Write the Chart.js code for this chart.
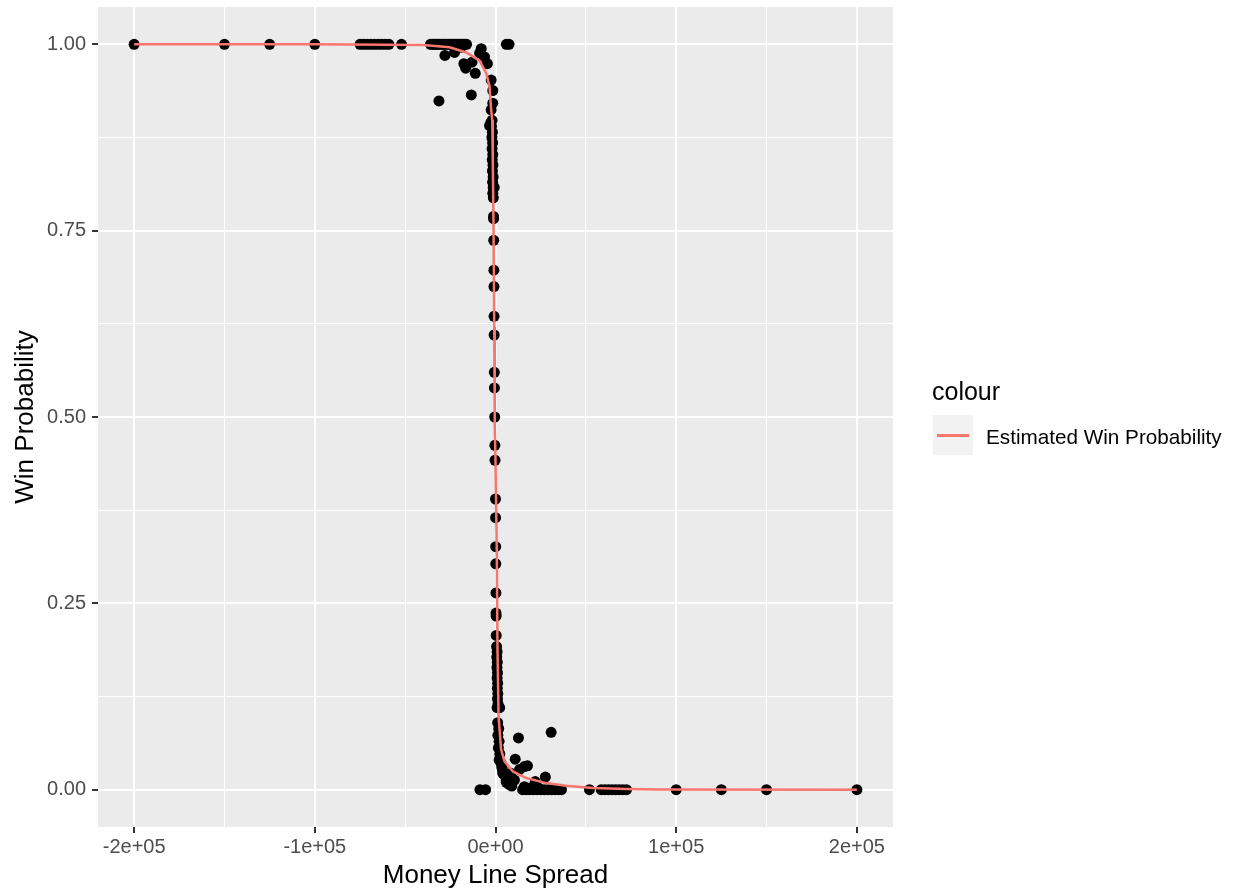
<!DOCTYPE html>
<html>
<head>
<meta charset="utf-8">
<script src="https://cdn.jsdelivr.net/npm/chart.js@4/dist/chart.umd.min.js"></script>
<style>
  body { margin: 0; background: #fff; }
  #wrap { position: relative; width: 1239px; height: 896px; font-family: 'Liberation Sans', Arial, sans-serif; }
  #chart { position: absolute; left: 0; top: 0; }
  .legend-title { position: absolute; left: 932px; top: 379px; font-size: 25px; line-height: 25px; color: #000; white-space: nowrap; }
  .legend-key { position: absolute; left: 933px; top: 415px; width: 40px; height: 40px; background: #F2F2F2; }
  .legend-key span { position: absolute; left: 4px; top: 18.5px; width: 32px; height: 3px; background: #F8766D; }
  .legend-label { position: absolute; left: 986px; top: 426px; font-size: 20.7px; line-height: 21px; color: #000; white-space: nowrap; }
</style>
</head>
<body>
<div id="wrap">
  <canvas id="chart" width="1239" height="896"></canvas>
  <div class="legend-title">colour</div>
  <div class="legend-key"><span></span></div>
  <div class="legend-label">Estimated Win Probability</div>
</div>
<script>
// Axis ticks
const xMajorTicks = [-200000, -100000, 0, 100000, 200000];
const xMinorTicks = [-150000, -50000, 50000, 150000];
const xTickLabels = ['-2e+05', '-1e+05', '0e+00', '1e+05', '2e+05'];
const yMajorTicks = [0, 0.25, 0.5, 0.75, 1];
const yMinorTicks = [0.125, 0.375, 0.625, 0.875];
const yTickLabels = ['0.00', '0.25', '0.50', '0.75', '1.00'];

// Observed games: money line spread vs win probability
const spreadValues = [
    -200000, -150000, -125000, -100000,
    -75000, -73000, -71000, -69000, -67000, -65000, -63000, -61000, -59000, -52000,
    -36000, -35000, -34000, -33000, -32000, -31000, -30000, -29000, -28000, -27000,
    -26000, -25000, -24000, -23000, -22000, -21000, -20000, -19000, -18000, -17000, -16000,
    6000, 7500,
    -31300, -28000, -22700, -19000, -17500, -16500, -13400, -13000, -11200, -8800,
    -7900, -6100, -4500, -2400, -1500, -1500, -2400, -3300, -2600,
    -1900, -2200, -1700, -2000, -1600, -1900, -1500, -1800, -1400, -1700, -1300, -1600, -1300, -700, -1500,
    -1200, -1100, -1050, -1000, -900, -850, -800, -750, -650, -600, -450, -350, -250,
    0, 50, 100, 150, 250, 300, 350, 400,
    600, 900, 700, 1000, 800, 1100, 900, 1200, 1000, 1300, 1100, 1400, 900, 2300,
    1200, 1800, 1300, 2000, 1600, 2400, 2000, 3000,
    30800, 12700, 10900, 16000, 13300, 17700, 27600, 22000, 7700, 5000, 5900, 3800,
    10500, 8500, 3500, 4000, 6000, 9000,
    -8600, -5500,
    15000, 17000, 19000, 21000, 23000, 25000, 27000, 29000, 31000, 33000, 35000, 36500,
    16000, 20000, 24000,
    52000, 58500, 60500, 62500, 64500, 66500, 68500, 70500, 72500,
    100000, 125000, 150000, 200000,
];
const winProbValues = [
    1, 1, 1, 1,
    1, 1, 1, 1, 1, 1, 1, 1, 1, 1,
    1, 1, 1, 1, 1, 1, 1, 1, 1, 1,
    1, 1, 1, 1, 1, 1, 1, 1, 1, 1, 1,
    1, 1,
    0.924, 0.985, 0.989, 0.996, 0.974, 0.968, 0.932, 0.976, 0.961, 0.988,
    0.994, 0.983, 0.974, 0.952, 0.938, 0.921, 0.912, 0.891, 0.895,
    0.898, 0.890, 0.882, 0.875, 0.868, 0.860, 0.852, 0.845, 0.838, 0.830, 0.822, 0.815, 0.808, 0.808, 0.800,
    0.794, 0.769, 0.766, 0.737, 0.697, 0.675, 0.635, 0.610, 0.560, 0.539, 0.500, 0.462, 0.442,
    0.390, 0.365, 0.326, 0.303, 0.264, 0.237, 0.233, 0.207,
    0.192, 0.185, 0.178, 0.171, 0.164, 0.157, 0.150, 0.143, 0.136, 0.129, 0.122, 0.115, 0.110, 0.110,
    0.090, 0.082, 0.073, 0.065, 0.056, 0.048, 0.040, 0.036,
    0.077, 0.0695, 0.041, 0.031, 0.027, 0.032, 0.017, 0.011, 0.0067, 0.020, 0.013, 0.027,
    0.013, 0.022, 0.030, 0.022, 0.010, 0.005,
    0, 0,
    0, 0, 0, 0, 0, 0, 0, 0, 0, 0, 0, 0,
    0.004, 0.003, 0.002,
    0, 0, 0, 0, 0, 0, 0, 0, 0,
    0, 0, 0, 0,
];

// Fitted curve
const curveSpread = [
    -200000, -100000, -60000, -40000, -25400, -16200, -8800, -5100, -3300, -2400,
    -1800, -1500, -1100, -700, -400, -100, 700, 1100, 1700, 3100,
    5000, 9600, 17000, 28000, 39000, 54000, 72000, 90000, 200000,
];
const curveProb = [
    1.000, 1.000, 0.9995, 0.999, 0.996, 0.989, 0.978, 0.961, 0.943, 0.912,
    0.898, 0.845, 0.755, 0.621, 0.487, 0.456, 0.322, 0.188, 0.098, 0.054,
    0.038, 0.0245, 0.0157, 0.0089, 0.0054, 0.0023, 0.001, 0.0003, 0.000,
];

Chart.defaults.font.family = "'Liberation Sans', Arial, sans-serif";

const isMajor = (majors, ctx) => ctx.tick && majors.includes(ctx.tick.value);

// no extra room for half-height / half-width tick labels
const noLabelPadding = (scale) => {
    scale.paddingTop = 0;
    scale.paddingBottom = 0;
    scale.paddingLeft = 0;
    scale.paddingRight = 0;
};

const panelBackground = {
    id: 'panelBackground',
    beforeDraw(chart) {
        const { ctx, chartArea: a } = chart;
        ctx.save();
        ctx.fillStyle = '#EBEBEB';
        ctx.fillRect(a.left, a.top, a.width, a.height);
        ctx.restore();
    },
};

new Chart(document.getElementById('chart'), {
    type: 'scatter',
    data: {
        datasets: [
            {
                label: 'Estimated Win Probability',
                data: curveSpread.map((x, i) => ({ x, y: curveProb[i] })),
                showLine: true,
                borderColor: '#F8766D',
                borderWidth: 2.5,
                pointRadius: 0,
                tension: 0,
                order: 0,
            },
            {
                label: 'observed',
                data: spreadValues.map((x, i) => ({ x, y: winProbValues[i] })),
                backgroundColor: '#000',
                borderWidth: 0,
                pointRadius: 5.5,
                order: 1,
            },
        ],
    },
    options: {
        responsive: false,
        animation: false,
        devicePixelRatio: 1,
        layout: { padding: { top: 7, right: 346, bottom: 0, left: 0 } },
        plugins: {
            legend: { display: false },
            tooltip: { enabled: false },
        },
        scales: {
            x: {
                type: 'linear',
                min: -220000,
                max: 220000,
                afterBuildTicks: (scale) => {
                    scale.ticks = xMajorTicks.concat(xMinorTicks).sort((a, b) => a - b).map(v => ({ value: v }));
                },
                afterFit: (scale) => { scale.height = 69; noLabelPadding(scale); },
                ticks: {
                    autoSkip: false,
                    maxRotation: 0,
                    padding: 2,
                    color: '#4D4D4D',
                    font: { size: 20 },
                    callback: (value) => {
                        const i = xMajorTicks.indexOf(value);
                        return i >= 0 ? xTickLabels[i] : '';
                    },
                },
                grid: {
                    color: '#FFFFFF',
                    lineWidth: ctx => isMajor(xMajorTicks, ctx) ? 2 : 1,
                    tickColor: ctx => isMajor(xMajorTicks, ctx) ? '#333333' : 'rgba(0,0,0,0)',
                    tickLength: 6,
                    tickWidth: 2,
                },
                border: { display: false },
                title: {
                    display: true,
                    text: 'Money Line Spread',
                    color: '#000',
                    font: { size: 26 },
                    padding: { top: 0, bottom: 5 },
                },
            },
            y: {
                type: 'linear',
                min: -0.05,
                max: 1.05,
                afterBuildTicks: (scale) => {
                    scale.ticks = yMajorTicks.concat(yMinorTicks).sort((a, b) => a - b).map(v => ({ value: v }));
                },
                afterFit: (scale) => { scale.width = 98; noLabelPadding(scale); },
                ticks: {
                    autoSkip: false,
                    padding: 6,
                    color: '#4D4D4D',
                    font: { size: 20 },
                    callback: (value) => {
                        const i = yMajorTicks.indexOf(value);
                        return i >= 0 ? yTickLabels[i] : '';
                    },
                },
                grid: {
                    color: '#FFFFFF',
                    lineWidth: ctx => isMajor(yMajorTicks, ctx) ? 2 : 1,
                    tickColor: ctx => isMajor(yMajorTicks, ctx) ? '#333333' : 'rgba(0,0,0,0)',
                    tickLength: 6,
                    tickWidth: 2,
                },
                border: { display: false },
                title: {
                    display: true,
                    text: 'Win Probability',
                    color: '#000',
                    font: { size: 26 },
                    padding: { top: 10, bottom: 0 },
                },
            },
        },
    },
    plugins: [panelBackground],
});
</script>
</body>
</html>
